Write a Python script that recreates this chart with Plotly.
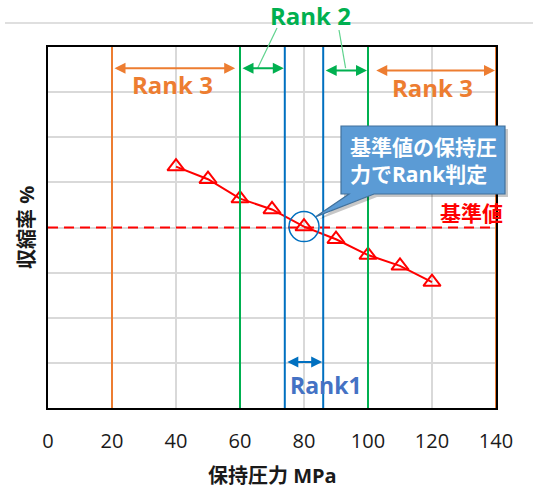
import plotly.graph_objects as go

# ---- data ----
pressure = [40, 50, 60, 70, 80, 90, 100, 110, 120]
shrinkage = [5.35, 5.07, 4.64, 4.40, 4.02, 3.74, 3.39, 3.15, 2.79]
base_value = 4.0
base_pressure = 80
rank1 = [74, 86]
rank2 = [60, 100]
rank3 = [20, 140]
x_ticks = [0, 20, 40, 60, 80, 100, 120, 140]

FONT = "Open Sans, Noto Sans CJK JP"
ORANGE = "#ED7D31"
GREEN = "#00B050"
BLUE = "#0070C0"
RED = "#FF0000"

# page geometry (body margin removed by post_script)
PAGE_W, PAGE_H = 533, 488
PL, PT, PR, PB = 48, 47, 496, 408      # plot area in page pixels
PW, PH = PR - PL, PB - PT
W, H = PAGE_W, PAGE_H
ML, MT = PL, PT
MR, MB = W - ML - PW, H - MT - PH
XR = [0, 140]
YR = [0, 8]


def px2paper(px, py):
    return (px - PL) / PW, (PB - py) / PH


def data2paper(x, y):
    return (x - XR[0]) / (XR[1] - XR[0]), (y - YR[0]) / (YR[1] - YR[0])


fig = go.Figure()
fig.add_trace(go.Scatter(
    x=pressure, y=shrinkage, mode="lines+markers",
    line=dict(color=RED, width=2),
    marker=dict(symbol="triangle-up-open", size=15, color=RED, line=dict(width=2, color=RED)),
    showlegend=False, hoverinfo="skip",
))

shapes = []
# base value dashed line
shapes.append(dict(type="line", xref="x", yref="y", x0=XR[0], x1=XR[1], y0=base_value, y1=base_value,
                   line=dict(color=RED, width=2, dash="10px,6px"), layer="above"))
# rank boundaries
for xs, col in ((rank3, ORANGE), (rank2, GREEN), (rank1, BLUE)):
    for xv in xs:
        shapes.append(dict(type="line", xref="x", yref="paper", x0=xv, x1=xv, y0=0, y1=1,
                           line=dict(color=col, width=2)))

# top gray rule
x0p, y0p = px2paper(5, 23)
x1p, _ = px2paper(533, 23)
shapes.append(dict(type="line", xref="paper", yref="paper", x0=x0p, x1=x1p, y0=y0p, y1=y0p,
                   line=dict(color="#BFBFBF", width=1)))

# circle around base point
base_y = shrinkage[pressure.index(base_pressure)]
shapes.append(dict(type="circle", xref="x", yref="y", xsizemode="pixel", ysizemode="pixel",
                   xanchor=base_pressure, yanchor=base_y, x0=-15, x1=15, y0=-15, y1=15,
                   line=dict(color=BLUE, width=1.5)))

# Rank 2 leader lines
arrow_y = 7.53
for (tx, ty), xd in (((277, 28), 65.5), ((339, 30), 93)):
    a = px2paper(tx, ty)
    b = data2paper(xd, arrow_y)
    shapes.append(dict(type="line", xref="paper", yref="paper", x0=a[0], y0=a[1], x1=b[0], y1=b[1],
                       line=dict(color="#5FD38D", width=1.2)))

# callout box with pointer
tip = data2paper(base_pressure, base_y)
tip = (tip[0] + 12 / PW, tip[1] + 10 / PH)
bl = px2paper(341, 194)
tr = px2paper(505, 126)
w1 = px2paper(349, 194)
w2 = px2paper(374, 194)


def callout_path(dx=0.0, dy=0.0):
    pts = [(bl[0], tr[1]), (tr[0], tr[1]), (tr[0], bl[1]), (w2[0], w2[1]), tip, (w1[0], w1[1]), (bl[0], bl[1])]
    return "M " + " L ".join(f"{x + dx},{y + dy}" for x, y in pts) + " Z"


shapes.append(dict(type="path", xref="paper", yref="paper", path=callout_path(3 / PW, -3 / PH),
                   fillcolor="rgba(0,0,0,0.22)", line=dict(width=0)))
shapes.append(dict(type="path", xref="paper", yref="paper", path=callout_path(),
                   fillcolor="#5B9BD5", line=dict(color="#41719C", width=1.2)))

annotations = []


def arrow(xa, xb, y, col):
    annotations.append(dict(x=xb, y=y, ax=xa, ay=y, xref="x", yref="y", axref="x", ayref="y",
                            text="", showarrow=True, arrowhead=2, startarrowhead=2, arrowside="end+start",
                            arrowsize=1.1, startarrowsize=1.1, arrowwidth=2, arrowcolor=col,
                            standoff=1, startstandoff=1))


arrow(rank3[0], rank2[0] - 1.2, arrow_y, ORANGE)
arrow(rank2[1] + 1.8, rank3[1], arrow_y - 0.05, ORANGE)
arrow(rank2[0], rank1[0], arrow_y, GREEN)
arrow(rank1[1], rank2[1], arrow_y - 0.05, GREEN)
arrow(rank1[0], rank1[1], 1.02, BLUE)


def label(text, x, y, col, size, xref="x", yref="y", angle=0, bold=True):
    annotations.append(dict(text=f"<b>{text}</b>" if bold else text, x=x, y=y, xref=xref, yref=yref,
                            showarrow=False, textangle=angle, xanchor="center", yanchor="middle",
                            font=dict(family=FONT, size=size, color=col)))


label("Rank 3", 39, 7.16, ORANGE, 24)
label("Rank 3", 120, 7.11, ORANGE, 24)
p = px2paper(310, 16)
label("Rank 2", p[0], p[1], GREEN, 24, "paper", "paper")
label("Rank1", 87, 0.51, "#4472C4", 23)
label("基準値", 132.2, 4.32, RED, 21)
p = px2paper(423, 160)
annotations.append(dict(text="<b>基準値の保持圧<br>力でRank判定</b>", x=p[0], y=p[1], xref="paper", yref="paper",
                        showarrow=False, xanchor="center", yanchor="middle", align="left",
                        font=dict(family=FONT, size=21, color="white")))
p = px2paper(26, 228)
label("収縮率 %", p[0], p[1], "#1a1a1a", 20, "paper", "paper", angle=-90)
p = px2paper(272, 475)
label("保持圧力 MPa", p[0], p[1], "#1a1a1a", 20, "paper", "paper")

fig.update_layout(
    width=W, height=H, margin=dict(l=ML, r=MR, t=MT, b=MB, autoexpand=False),
    paper_bgcolor="white", plot_bgcolor="white",
    shapes=shapes, annotations=annotations,
    font=dict(family=FONT, color="#1a1a1a"),
    xaxis=dict(range=XR, tickvals=x_ticks, ticktext=[str(v) for v in x_ticks],
               showgrid=True, gridcolor="#D9D9D9", gridwidth=1.5,
               showline=True, linecolor="black", linewidth=2, mirror=True,
               zeroline=False, ticks="", ticklabelstandoff=14,
               tickfont=dict(family=FONT, size=20, color="#1a1a1a")),
    yaxis=dict(range=YR, dtick=1, showgrid=True, gridcolor="#D9D9D9", gridwidth=1.5,
               showline=True, linecolor="black", linewidth=2, mirror=True,
               zeroline=False, showticklabels=False, ticks=""),
)

fig.write_html("out.html", config={"displayModeBar": False},
               post_script="document.body.style.margin='0';")
